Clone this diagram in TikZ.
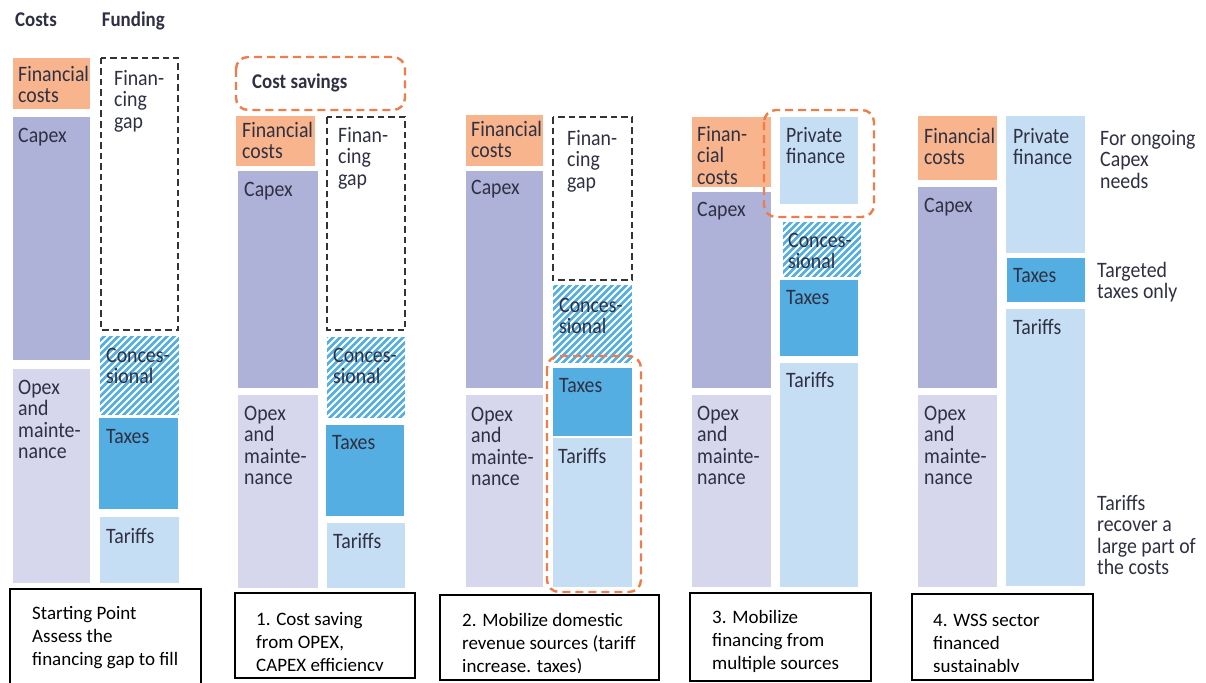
\documentclass[tikz,border=0pt]{standalone}
\usepackage{fontspec}
\setmainfont{Carlito}
\newfontfamily\labfam[FakeStretch=0.9]{Carlito}
\definecolor{finc}{HTML}{F7B48D}
\definecolor{capc}{HTML}{AEB2D9}
\definecolor{opxc}{HTML}{D6D6EC}
\definecolor{taxc}{HTML}{54AEE2}
\definecolor{tarc}{HTML}{C6DEF4}
\definecolor{orc}{HTML}{EF7D4C}
\definecolor{gapc}{HTML}{333333}
\definecolor{txt}{HTML}{2F3142}
\tikzset{
  fin/.style={fill=finc},
  capex/.style={fill=capc},
  opex/.style={fill=opxc},
  taxes/.style={fill=taxc},
  tariffs/.style={fill=tarc},
  gapbox/.style={draw=gapc, line width=1.4pt, dash pattern=on 6.5pt off 4pt},
  orbox/.style={draw=orc, line width=2.4pt, dash pattern=on 8pt off 5pt, rounded corners=12pt},
  stepbox/.style={draw=black, line width=1.7pt},
  lbl/.style={anchor=north west, inner sep=0pt, align=left, text=txt,
    font={\labfam\fontsize{22}{21.5}\selectfont\lineskiplimit=-30pt}},
  hdr/.style={anchor=base west, inner sep=0pt, text=txt,
    font={\labfam\bfseries\fontsize{21}{24}\selectfont}},
  steptxt/.style={anchor=north west, inner sep=0pt, align=left, text=black,
    font={\fontsize{19}{23}\selectfont\lineskiplimit=-30pt}}
}
\newcommand\hatchbox[4]{%
  \fill[taxc] (#1,#2) rectangle (#3,#4);
  \begin{scope}
    \clip (#1,#2) rectangle (#3,#4);
    \foreach \d in {-14,-7,...,182} \draw[white, line width=1.8pt] ({#1-90+\d},{#4+5}) -- ++(110,-110);
  \end{scope}}
\begin{document}
\begin{tikzpicture}[x=1pt,y=-1pt]
\useasboundingbox (0,0) rectangle (1206,682);
\clip (0,0) rectangle (1206,682);
\fill[white] (0,0) rectangle (1206,682);

% headers
\node[hdr] (hcosts) at (15,26.7) {Costs};
\node[hdr] (hfund) at (101.7,26.7) {Funding};

% ---------- Panel 0 ----------
\fill[fin] (13,58) rectangle (90,109);
\fill[capex] (13,117) rectangle (90,360);
\fill[opex] (13,369) rectangle (90,583);
\draw[gapbox] (101,58) rectangle (178,330);
\hatchbox{100}{336}{179}{415}
\fill[taxes] (99,418) rectangle (178,509);
\fill[tariffs] (100,517) rectangle (179,583);
\node[lbl] (a0) at (18,66) {\strut Financial\\costs};
\node[lbl] (a1) at (18,127) {\strut Capex};
\node[lbl] (a2) at (18,379) {\strut Opex\\and\\mainte-\\nance};
\node[lbl] (a3) at (114,70) {\strut Finan-\\cing\\gap};
\node[lbl] (a4) at (106,347) {\strut Conces-\\sional};
\node[lbl] (a5) at (106,428) {\strut Taxes};
\node[lbl] (a6) at (106,528) {\strut Tariffs};
\draw[stepbox] (10,589) rectangle (201,690);
\node[steptxt] (s0) at (32,603) {\strut Starting Point\\Assess the\\financing gap to fill};

% ---------- Panel 1 ----------
\draw[orbox] (236,57) rectangle (405,110);
\node[hdr] (csav) at (252,89) {Cost savings};
\fill[fin] (236,116) rectangle (315,166);
\fill[capex] (238,171) rectangle (318,388);
\fill[opex] (238,395) rectangle (318,588);
\draw[gapbox] (327,117) rectangle (405,330);
\hatchbox{327}{337}{405}{418}
\fill[taxes] (326,425) rectangle (404,516);
\fill[tariffs] (327,523) rectangle (405,588);
\node[lbl] (b0) at (242,122) {\strut Financial\\costs};
\node[lbl] (b1) at (244,181) {\strut Capex};
\node[lbl] (b2) at (244,405) {\strut Opex\\and\\mainte-\\nance};
\node[lbl] (b3) at (338,127) {\strut Finan-\\cing\\gap};
\node[lbl] (b4) at (333,347) {\strut Conces-\\sional};
\node[lbl] (b5) at (332,434) {\strut Taxes};
\node[lbl] (b6) at (333,533) {\strut Tariffs};
\draw[stepbox] (235,593) rectangle (415,678);
\begin{scope}
  \clip (235,593) rectangle (415,670);
  \node[steptxt] (s1) at (256,609) {\strut 1. Cost saving\\from OPEX,\\CAPEX efficiency};
\end{scope}

% ---------- Panel 2 ----------
\fill[fin] (466,115) rectangle (543,166);
\fill[capex] (466,171) rectangle (543,388);
\fill[opex] (466,395) rectangle (543,587);
\draw[gapbox] (553,117) rectangle (632,280);
\hatchbox{553}{285}{632}{363}
\fill[taxes] (553,368) rectangle (632,436);
\fill[tariffs] (553,438) rectangle (632,587);
\draw[orbox] (547,356) rectangle (641,592);
\node[lbl] (c0) at (471,121) {\strut Financial\\costs};
\node[lbl] (c1) at (471,179) {\strut Capex};
\node[lbl] (c2) at (471,406) {\strut Opex\\and\\mainte-\\nance};
\node[lbl] (c3) at (567,130) {\strut Finan-\\cing\\gap};
\node[lbl] (c4) at (559,297) {\strut Conces-\\sional};
\node[lbl] (c5) at (559,377) {\strut Taxes};
\node[lbl] (c6) at (558,448) {\strut Tariffs};
\draw[stepbox] (440,595) rectangle (659,680);
\begin{scope}
  \clip (440,595) rectangle (659,672);
  \node[steptxt] (s2) at (462,610) {\strut 2. Mobilize domestic\\revenue sources (tariff\\increase. taxes)};
\end{scope}

% ---------- Panel 3 ----------
\fill[fin] (692,117) rectangle (771,187);
\fill[capex] (692,192) rectangle (771,388);
\fill[opex] (692,395) rectangle (771,587);
\fill[tariffs] (780,117) rectangle (858,204);
\hatchbox{783}{222}{861}{277}
\fill[taxes] (780,280) rectangle (858,356);
\fill[tariffs] (780,363) rectangle (858,587);
\draw[orbox] (764,110) rectangle (874,217);
\node[lbl] (d0) at (697,126) {\strut Finan-\\cial\\costs};
\node[lbl] (d1) at (697,201) {\strut Capex};
\node[lbl] (d2) at (697,405) {\strut Opex\\and\\mainte-\\nance};
\node[lbl] (d3) at (786,127) {\strut Private\\finance};
\node[lbl] (d4) at (788,232) {\strut Conces-\\sional};
\node[lbl] (d5) at (786,289) {\strut Taxes};
\node[lbl] (d6) at (786,372) {\strut Tariffs};
\draw[stepbox] (690,593) rectangle (871,681);
\begin{scope}
  \clip (690,593) rectangle (871,672);
  \node[steptxt] (s3) at (712,607) {\strut 3. Mobilize\\financing from\\multiple sources};
\end{scope}

% ---------- Panel 4 ----------
\fill[fin] (918,116) rectangle (997,180);
\fill[capex] (918,187) rectangle (997,388);
\fill[opex] (918,395) rectangle (997,587);
\fill[tariffs] (1006,116) rectangle (1085,253);
\fill[taxes] (1007,258) rectangle (1085,302);
\fill[tariffs] (1006,309) rectangle (1085,586);
\node[lbl] (e0) at (924,128) {\strut Financial\\costs};
\node[lbl] (e1) at (924,197) {\strut Capex};
\node[lbl] (e2) at (924,405) {\strut Opex\\and\\mainte-\\nance};
\node[lbl] (e3) at (1013,128) {\strut Private\\finance};
\node[lbl] (e5) at (1013,267) {\strut Taxes};
\node[lbl] (e6) at (1013,319) {\strut Tariffs};
\node[lbl] (n1) at (1100,130) {\strut For ongoing\\Capex\\needs};
\node[lbl] (n2) at (1097,262) {\strut Targeted\\taxes only};
\node[lbl] (n3) at (1097,495) {\strut Tariffs\\recover a\\large part of\\the costs};
\draw[stepbox] (912,594) rectangle (1093,680);
\begin{scope}
  \clip (912,594) rectangle (1093,671);
  \node[steptxt] (s4) at (933,610) {\strut 4. WSS sector\\financed\\sustainably};
\end{scope}
\end{tikzpicture}
\end{document}
